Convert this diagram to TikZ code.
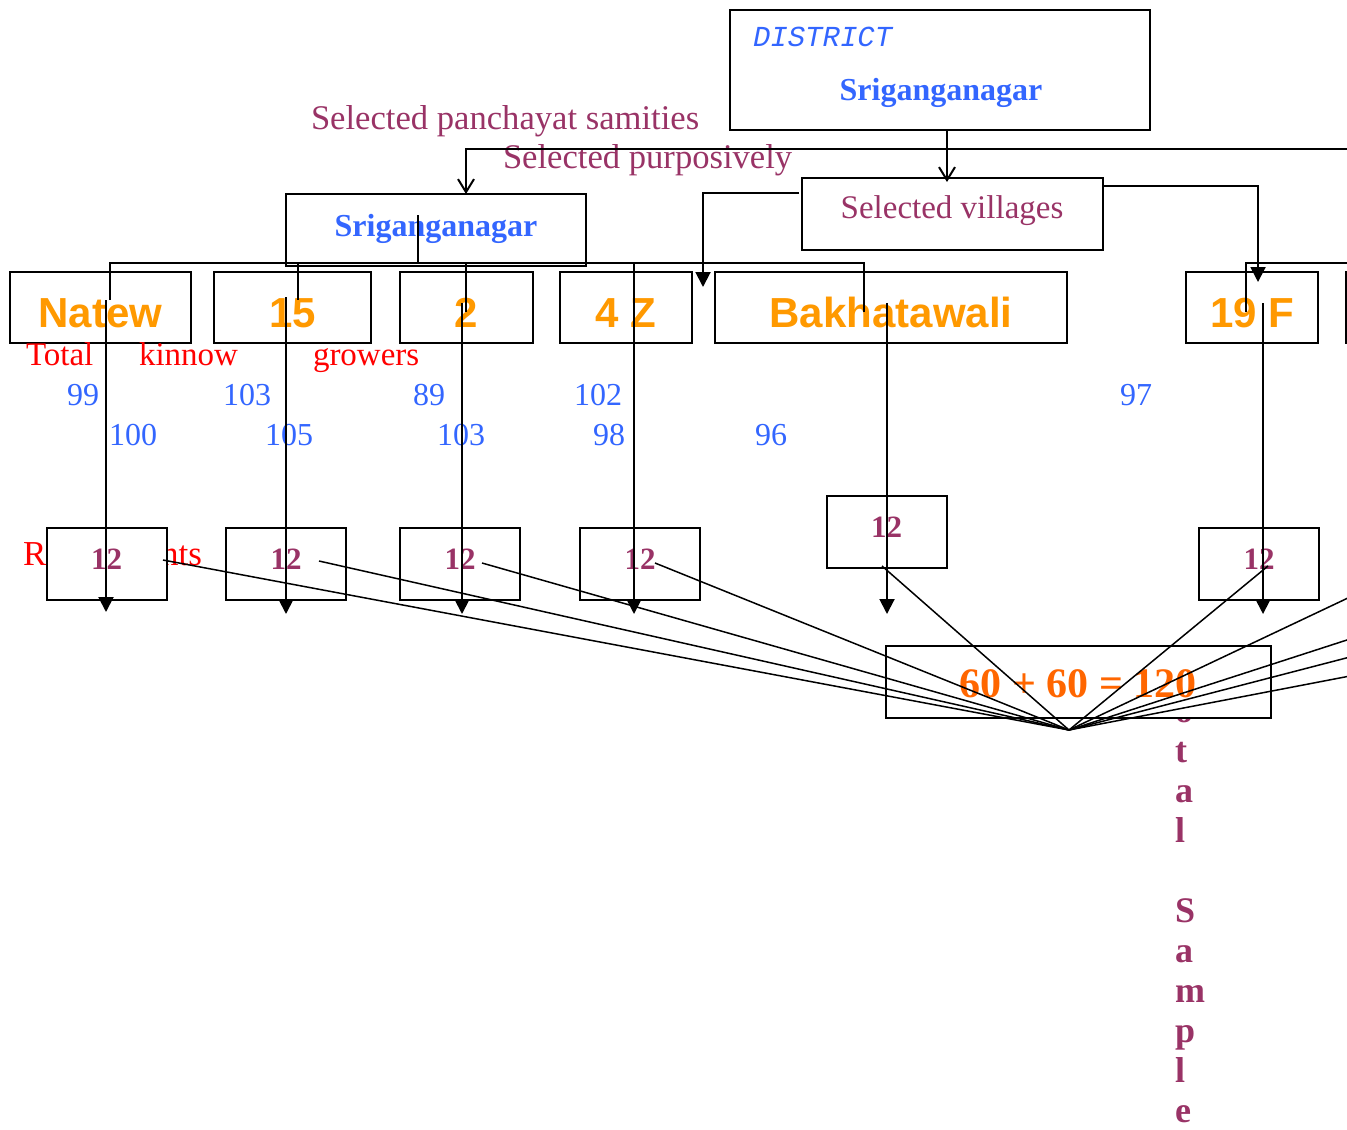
\documentclass[tikz,border=0pt]{standalone}
\usepackage{fontspec}
\setmainfont{Liberation Serif}
\newfontfamily\arialfont{Liberation Sans}
\newfontfamily\courfont{Liberation Mono}
\usetikzlibrary{arrows.meta}
\definecolor{plum}{HTML}{993366}
\definecolor{skyblue}{HTML}{3366FF}
\definecolor{amber}{HTML}{FF9900}
\definecolor{tangerine}{HTML}{FF6600}
\begin{document}
\begin{tikzpicture}[x=0.5pt,y=-0.5pt,line width=1pt,
    every node/.style={inner sep=0pt},
    box/.style={draw,fill=white,minimum height=36pt},
    vill/.style={anchor=base,text=amber,font=\arialfont\bfseries\fontsize{21}{25}\selectfont},
    count/.style={anchor=base,text=skyblue,font=\fontsize{16}{19}\selectfont},
    samp/.style={anchor=base,text=plum,font=\bfseries\fontsize{15.5}{18}\selectfont},
    note/.style={anchor=base west,text=plum,font=\fontsize{17.3}{20}\selectfont},
    redtxt/.style={anchor=base west,text=red,font=\fontsize{16.5}{20}\selectfont},
    tri/.style={-{Triangle[length=7.5pt,width=7.5pt]}},
    barb/.style={-{Straight Barb[length=6.5pt,width=8pt]}},
    feed/.style={line width=0.75pt}]
\useasboundingbox (0,0) rectangle (1347,1129);
\clip (0,0) rectangle (1347,1129);

% texts the boxes partly hide
\node[redtxt,font=\fontsize{17.5}{20}\selectfont] (resp) at (22,565) {Respondents};
\node[anchor=south west,align=left,text=plum,font=\bfseries\fontsize{18}{20}\selectfont] (totsamp) at (1174,1124) {T\\o\\t\\a\\l\\[20pt]S\\a\\m\\p\\l\\e};

% district and samiti
\node[box,minimum width=210pt,minimum height=60pt] (dist) at (940,70) {};
\node[anchor=base west,text=skyblue,font=\courfont\itshape\fontsize{14.5}{17}\selectfont] (distlbl) at (752,47) {DISTRICT};
\node[anchor=base,text=skyblue,font=\bfseries\fontsize{16}{19}\selectfont] (distname) at (941,100) {Sriganganagar};
\node[box,minimum width=150pt] (samiti) at (436,230) {};
\node[anchor=base,text=skyblue,font=\bfseries\fontsize{16}{19}\selectfont] (samname) at (436,236) {Sriganganagar};
\node[box,minimum width=150.5pt] (selvil) at (952.5,214) {};
\node[anchor=base,text=plum,font=\fontsize{16.5}{20}\selectfont] (selvlbl) at (952,218) {Selected villages};
\node[note] (selps) at (310,129) {Selected panchayat samities};
\node[note] (selpur) at (502,168) {Selected purposively};

% villages
\foreach \i/\x/\w/\t in {1/100.5/90.5/Natew, 2/292.5/78.5/15, 3/466.5/66.5/2, 4/626/66/4 Z, 5/891/176/Bakhatawali, 6/1252/66/19 F}{
  \node[box,minimum width=\w pt,minimum height=35.5pt] (v\i) at (\x,307.5) {};
  \node[vill] (vl\i) at (\x,327) {\t};
}
\node[box,minimum width=66pt,minimum height=35.5pt] (v7) at (1412,307.5) {};

% growers
\node[redtxt] (tot) at (25,365) {Total};
\node[redtxt] (kin) at (138,365) {kinnow};
\node[redtxt] (grow) at (312,365) {growers};
\foreach \x/\y/\n [count=\i] in {83/405/99, 247/405/103, 429/405/89, 598/405/102, 1136/405/97,
    133/445/100, 289/445/105, 461/445/103, 609/445/98, 771/445/96}
  \node[count] (c\i) at (\x,\y) {\n};

% samples
\foreach \i/\x/\y in {1/106.5/564, 2/286/564, 3/460/564, 4/640/564, 5/886.5/532, 6/1259/564}{
  \node[box,minimum width=60pt] (s\i) at (\x,\y) {};
  \node[samp] (sl\i) at (\x,\y+5) {12};
}
\node[box,minimum width=192.5pt] (total) at (1078.5,682) {};
\node[anchor=base,text=tangerine,font=\bfseries\fontsize{21}{25}\selectfont] (totlbl) at (1078,697) {60 + 60 = 120};

% connectors
\coordinate (dfoot) at (947,130);
\coordinate (dtip) at (947,182);
\coordinate (spine) at (1360,149);
\coordinate (stip) at (466,194);
\coordinate (vlout) at (799,193);
\coordinate (vltip) at (703,287);
\coordinate (vrout) at (1103,186);
\coordinate (vrtip) at (1258,282);
\draw[barb] (dfoot) -- (dtip);
\draw[barb] (spine) -| (stip);
\draw[tri] (vlout) -| (vltip);
\draw[tri] (vrout) -| (vrtip);

\coordinate (stub) at (418,215);
\coordinate (railA) at (110,300);
\coordinate (railR) at (864,263);
\coordinate (railE) at (864,312);
\draw (stub) -- (stub |- railR);
\draw (railA) |- (railR) -- (railE);
\draw (298,263) -- (298,300);
\draw (466,263) -- (466,312);
\draw (1246,312) |- (1360,263);

\foreach \i/\x/\ya/\yb in {1/106/300/612, 2/286/297/614, 3/462/303/614, 4/634/263/614, 5/887/303/614, 6/1263/303/614}{
  \coordinate (top\i) at (\x,\ya);
  \coordinate (tip\i) at (\x,\yb);
  \draw[tri] (top\i) -- (tip\i);
}

\coordinate (hub) at (1069,730);
\foreach \x/\y in {163/560, 319/561, 482/563, 655/563, 882/566, 1268/566, 1350/597, 1350/639, 1350/657, 1350/676}
  \draw[feed] (\x,\y) -- (hub);
\end{tikzpicture}
\end{document}
